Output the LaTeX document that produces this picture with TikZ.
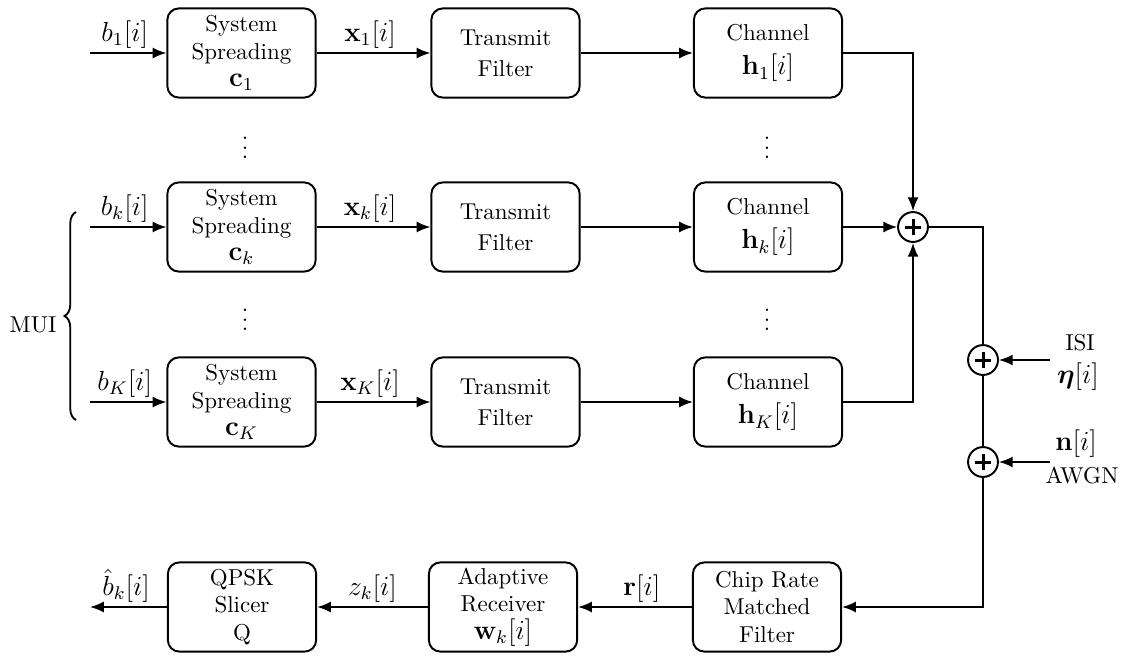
\documentclass[tikz,border=0pt]{standalone}
\usepackage{amsmath,amssymb}
\usetikzlibrary{arrows.meta,decorations.pathreplacing,calc}
\newcommand\blkfont{\fontsize{10}{12}\selectfont}
\newcommand\lblfont{\fontsize{12}{14}\selectfont}
\newcommand\bmath[1]{{\lblfont$#1$}}
\begin{document}
\begin{tikzpicture}[x=0.435pt,y=-0.435pt,
  blk/.style={draw,line width=0.85pt,rounded corners=5pt,minimum width=64.5pt,minimum height=38.8pt,align=center,inner sep=1pt,font=\blkfont},
  sumj/.style={draw,line width=0.85pt,circle,minimum size=13pt,inner sep=0pt,
     path picture={\draw[line width=1.3pt] ($(path picture bounding box.center)+(-3.6pt,0)$) -- ($(path picture bounding box.center)+(3.6pt,0)$);
                   \draw[line width=1.3pt] ($(path picture bounding box.center)+(0,-3.6pt)$) -- ($(path picture bounding box.center)+(0,3.6pt)$);}},
  conn/.style={line width=0.75pt},
  arr/.style={conn,-{Latex[length=6pt,width=4.8pt]}},
  lbl/.style={above,inner sep=1.5pt,font=\lblfont},
  side/.style={inner sep=0pt}]
\useasboundingbox (0,0) rectangle (1128,655);

% row 1
\node[blk] (ss1) at (241.5,53) {System\\Spreading\\\bmath{\mathbf{c}_1}};
\node[blk] (tf1) at (505.5,53) {Transmit\\[1.5pt]Filter};
\node[blk] (ch1) at (768,53) {Channel\\[3pt]\bmath{\mathbf{h}_1[i]}};
% row k
\node[blk] (ssk) at (241.5,227) {System\\Spreading\\\bmath{\mathbf{c}_k}};
\node[blk] (tfk) at (505.5,227) {Transmit\\[1.5pt]Filter};
\node[blk] (chk) at (768,227) {Channel\\[3pt]\bmath{\mathbf{h}_k[i]}};
% row K
\node[blk] (ssK) at (241.5,402) {System\\Spreading\\\bmath{\mathbf{c}_K}};
\node[blk] (tfK) at (505.5,402) {Transmit\\[1.5pt]Filter};
\node[blk] (chK) at (768,402) {Channel\\[3pt]\bmath{\mathbf{h}_K[i]}};
% bottom row
\node[blk] (qp) at (242,607) {QPSK\\Slicer\\Q};
\node[blk] (ar) at (503,607) {Adaptive\\Receiver\\\bmath{\mathbf{w}_k[i]}};
\node[blk] (cr) at (767,607) {Chip Rate\\Matched\\Filter};

% summing junctions
\node[sumj] (s0) at (913,227) {};
\node[sumj] (s1) at (983,360) {};
\node[sumj] (s2) at (983,462) {};

% dots
\node[side] (d1) at (245,141) {$\vdots$};
\node[side] (d2) at (767,141) {$\vdots$};
\node[side] (d3) at (245,313) {$\vdots$};
\node[side] (d4) at (767,313) {$\vdots$};

% inputs
\coordinate (in1) at (90,53);
\coordinate (ink) at (90,227);
\coordinate (inK) at (90,402);
\coordinate (out) at (90,607);
\draw[arr] (in1) -- node[lbl,xshift=-1.5pt] (lb1) {$b_1[i]$} (ss1);
\draw[arr] (ink) -- node[lbl,xshift=-1.5pt] (lbk) {$b_k[i]$} (ssk);
\draw[arr] (inK) -- node[lbl,xshift=-1.5pt] (lbK) {$b_K[i]$} (ssK);

\draw[arr] (ss1) -- node[lbl,xshift=-1.5pt] (lx1) {$\mathbf{x}_1[i]$} (tf1);
\draw[arr] (ssk) -- node[lbl,xshift=-1.5pt] (lxk) {$\mathbf{x}_k[i]$} (tfk);
\draw[arr] (ssK) -- node[lbl,xshift=-1.5pt] (lxK) {$\mathbf{x}_K[i]$} (tfK);

\draw[arr] (tf1) -- (ch1);
\draw[arr] (tfk) -- (chk);
\draw[arr] (tfK) -- (chK);

\draw[arr] (ch1.east) -| (s0.north);
\draw[arr] (chk.east) -- (s0.west);
\draw[arr] (chK.east) -| (s0.south);

\draw[conn] (s0.east) -| (s1.north);
\draw[conn] (s1.south) -- (s2.north);
\draw[arr] (s2.south) |- (cr.east);

\coordinate (isi) at (1050,360);
\coordinate (awgn) at (1050,462);
\draw[arr] (isi) -- (s1.east);
\draw[arr] (awgn) -- (s2.east);
\node[side] (lisi) at (1080,343) {ISI};
\node[side,font=\lblfont] (leta) at (1078,377) {$\boldsymbol{\eta}[i]$};
\node[side,font=\lblfont] (ln) at (1076,444) {$\mathbf{n}[i]$};
\node[side] (lawgn) at (1082,476) {AWGN};

\draw[arr] (cr.west) -- node[lbl,xshift=3pt] (lr) {$\mathbf{r}[i]$} (ar.east);
\draw[arr] (ar.west) -- node[lbl] (lz) {$z_k[i]$} (qp.east);
\draw[arr] (qp.west) -- node[lbl,xshift=-1pt] (lbh) {$\hat{b}_k[i]$} (out);

% brace
\draw[line width=0.8pt,decorate,decoration={brace,amplitude=5pt}] (76,420) -- (76,212);
\node (mui) at (33,325) {MUI};
\end{tikzpicture}
\end{document}
